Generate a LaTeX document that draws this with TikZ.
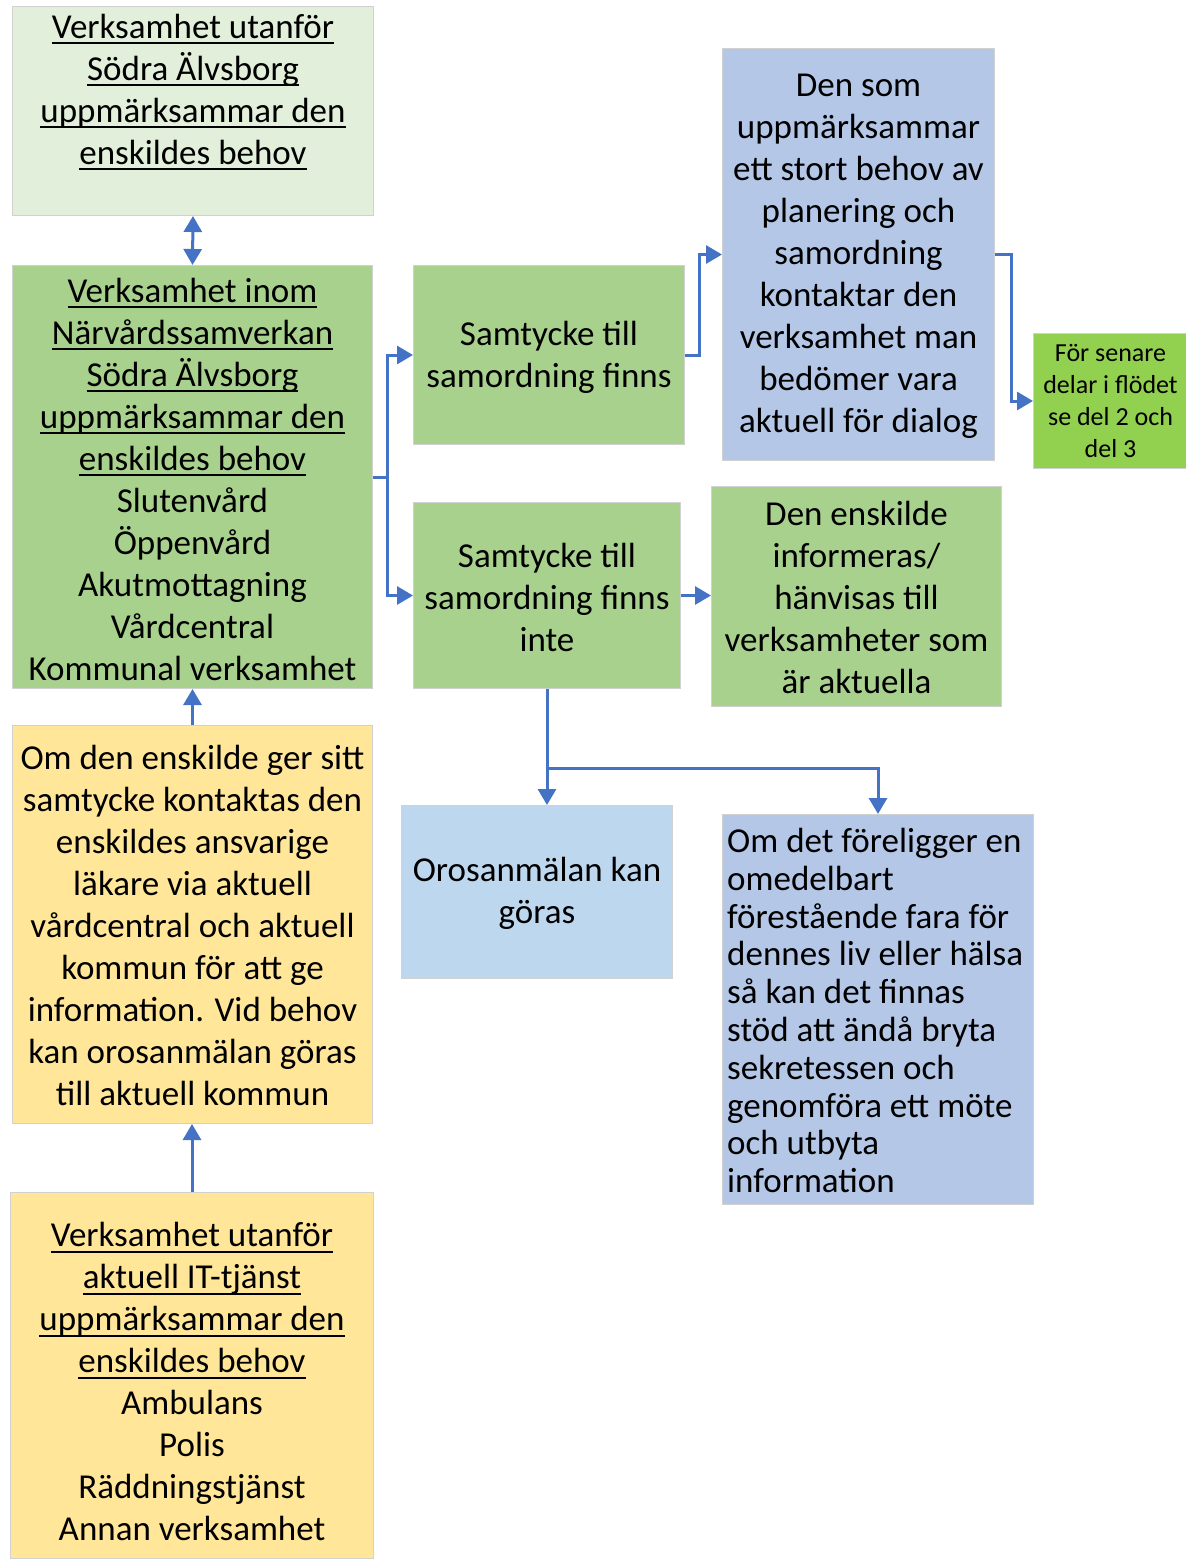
\documentclass[tikz,border=0pt]{standalone}
\usepackage{fontspec}
\setmainfont{Carlito}
\usetikzlibrary{arrows.meta}
\definecolor{lgreen}{HTML}{E2EFDA}
\definecolor{mgreen}{HTML}{A9D18E}
\definecolor{bgreen}{HTML}{92D050}
\definecolor{lyellow}{HTML}{FFE699}
\definecolor{lblue}{HTML}{B4C7E7}
\definecolor{pblue}{HTML}{BDD7EE}
\definecolor{arrblue}{HTML}{4472C4}
\newsavebox\myulbox
\newcommand{\myul}[1]{\sbox\myulbox{#1}\rlap{\rule[-6pt]{\wd\myulbox}{2pt}}\usebox\myulbox}
\newcommand{\mainfs}{\fontsize{35}{42}\selectfont}
\newcommand{\kfs}{\fontsize{35}{37.8}\selectfont}
\newcommand{\smallfs}{\fontsize{26}{31.7}\selectfont}
\begin{document}
\begin{tikzpicture}[x=1pt,y=-1pt,
  box/.style={draw=black!18, line width=1pt, inner sep=0pt, anchor=north west, align=center, font=\mainfs},
  txt/.style={inner sep=0pt, align=center, font=\mainfs},
  conn/.style={draw=arrblue, line width=3pt},
  arrow/.style={conn, -{Triangle[length=16pt,width=18pt]}},
  darrow/.style={conn, {Triangle[length=16pt,width=18pt]}-{Triangle[length=16pt,width=18pt]}}]
\useasboundingbox (0,0) rectangle (1186,1559);
% boxes
\node[box, fill=lgreen, minimum width=361pt, minimum height=209pt] (A) at (12,6) {};
\node[txt] (At) at ([yshift=19pt]A.center) {\myul{Verksamhet utanför}\\ \myul{Södra Älvsborg}\\ \myul{uppmärksammar den}\\ \myul{enskildes behov}};
\node[box, fill=mgreen, minimum width=360pt, minimum height=423pt] (B) at (12,265) {};
\node[txt] (Bt) at ([yshift=-2pt]B.center) {\myul{Verksamhet inom}\\ \myul{Närvårdssamverkan}\\ \myul{Södra Älvsborg}\\ \myul{uppmärksammar den}\\ \myul{enskildes behov}\\ Slutenvård\\ Öppenvård\\ Akutmottagning\\ Vårdcentral\\ Kommunal verksamhet};
\node[box, fill=lyellow, minimum width=360pt, minimum height=398pt] (C) at (12,725) {};
\node[txt] (Ct) at ([yshift=-1pt]C.center) {Om den enskilde ger sitt\\ samtycke kontaktas den\\ enskildes ansvarige\\ läkare via aktuell\\ vårdcentral och aktuell\\ kommun för att ge\\ information. Vid behov\\ kan orosanmälan göras\\ till aktuell kommun};
\node[box, fill=lyellow, minimum width=363pt, minimum height=366pt] (D) at (10,1192) {};
\node[txt] (Dt) at ([yshift=-6pt]D.center) {\myul{Verksamhet utanför}\\ \myul{aktuell IT-tjänst}\\ \myul{uppmärksammar den}\\ \myul{enskildes behov}\\ Ambulans\\ Polis\\ Räddningstjänst\\ Annan verksamhet};
\node[box, fill=mgreen, minimum width=271pt, minimum height=179pt] (E) at (413,265) {};
\node[txt] (Et) at ([yshift=-2pt]E.center) {Samtycke till\\ samordning finns};
\node[box, fill=mgreen, minimum width=267pt, minimum height=186pt] (F) at (413,502) {};
\node[txt] (Ft) at ([yshift=-2pt]F.center) {Samtycke till\\ samordning finns\\ inte};
\node[box, fill=lblue, minimum width=272pt, minimum height=412pt] (G) at (722,48) {};
\node[txt] (Gt) at ([yshift=-2pt]G.center) {Den som\\ uppmärksammar\\ ett stort behov av\\ planering och\\ samordning\\ kontaktar den\\ verksamhet man\\ bedömer vara\\ aktuell för dialog};
\node[box, fill=bgreen, minimum width=154pt, minimum height=135pt, font=\smallfs] (H) at (1033,333) {För senare\\ delar i flödet\\ se del 2 och\\ del 3};
\node[box, fill=mgreen, minimum width=290pt, minimum height=220pt] (I) at (711,486) {};
\node[txt] (It) at ([yshift=-1pt]I.center) {Den enskilde\\ informeras/\\ hänvisas till\\ verksamheter som\\ är aktuella};
\node[box, fill=pblue, minimum width=271pt, minimum height=173pt] (J) at (401,805) {};
\node[txt] (Jt) at ([yshift=-1pt]J.center) {Orosanmälan kan\\ göras};
\node[box, fill=lblue, minimum width=311pt, minimum height=390pt] (K) at (722,814) {};
\node[txt, align=left, anchor=west, font=\kfs] (Kt) at ([xshift=5pt,yshift=-1pt]K.west) {Om det föreligger en\\ omedelbart\\ förestående fara för\\ dennes liv eller hälsa\\ så kan det finnas\\ stöd att ändå bryta\\ sekretessen och\\ genomföra ett möte\\ och utbyta\\ information};
% connectors
\draw[darrow] (A.south) -- (B.north);
\coordinate (b1) at ([xshift=14pt]B.east);
\draw[conn] (B.east) -- (b1);
\draw[arrow] (b1) |- (E.west);
\draw[arrow] (b1) |- (F.west);
\draw[arrow] (E.east) -- ++(14,0) |- (G.west);
\draw[arrow] (G.east) -- ++(16,0) |- (H.west);
\draw[arrow] (F.east) -- (F.east -| I.west);
\draw[arrow] (F.south) -- (F.south |- J.north);
\coordinate (fk) at (F.south |- 0,768);
\draw[arrow] (fk) -| (K.north);
\draw[arrow] (C.north) -- (B.south);
\draw[arrow] (D.north) -- (D.north |- C.south);
\end{tikzpicture}
\end{document}
